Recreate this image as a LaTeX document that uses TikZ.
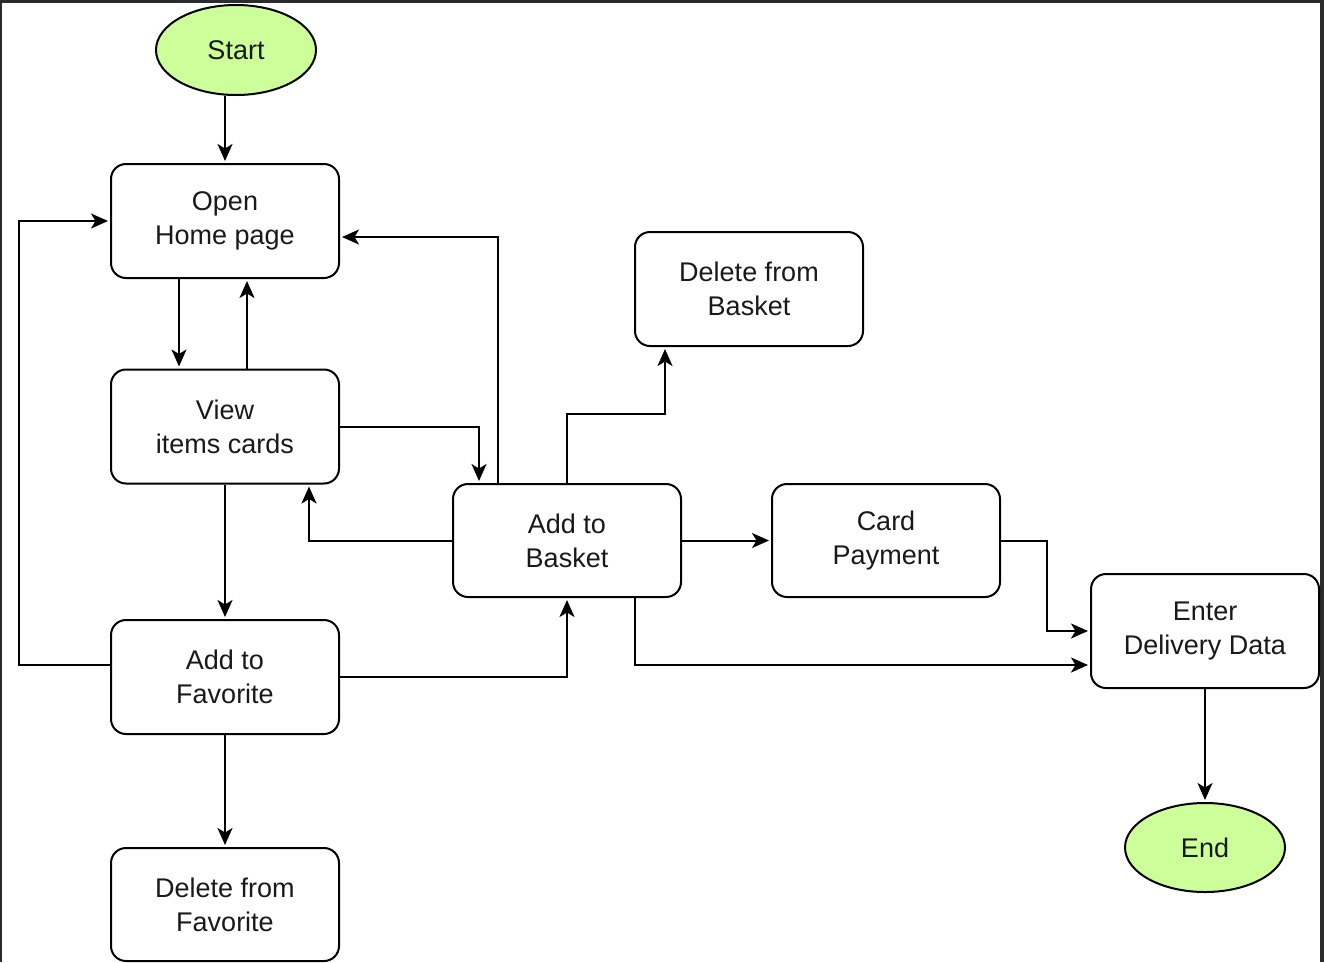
\documentclass[tikz,border=0pt]{standalone}
\usepackage{fontspec}
\setmainfont{Liberation Sans}
\usetikzlibrary{arrows.meta,shapes.geometric}
\definecolor{termfill}{HTML}{CCFF99}
\definecolor{framedark}{HTML}{2B2B2B}
\begin{document}
\begin{tikzpicture}[x=1pt,y=-1pt,
  every node/.style={font=\fontsize{27}{34}\selectfont, text=black!90},
  stepbox/.style={draw, line width=2pt, rounded corners=15pt, align=center,
    minimum width=228pt, minimum height=114pt, inner sep=0pt},
  terminal/.style={draw, line width=2pt, ellipse, fill=termfill,
    minimum width=160pt, minimum height=90pt, inner sep=0pt},
  arr/.style={line width=2pt, shorten >=2pt,
    -{Stealth[length=17pt,width=15pt,inset=4.5pt]}}]

% page and frame
\useasboundingbox (0,0) rectangle (1324,962);
\fill[white] (0,0) rectangle (1324,962);
\fill[framedark] (0,0) rectangle (1324,3);
\fill[framedark] (0,0) rectangle (2,962);
\fill[framedark] (1320,0) rectangle (1324,962);

% nodes
\node[terminal] (start) at (236,50) {Start};
\node[stepbox] (open) at (225,221) {Open\\Home page};
\node[stepbox] (view) at (225,426.5) {View\\items cards};
\node[stepbox] (fav) at (225,677) {Add to\\Favorite};
\node[stepbox, minimum height=113pt] (delfav) at (225,904.5) {Delete from\\Favorite};
\node[stepbox, minimum height=113pt] (basket) at (567,540.5) {Add to\\Basket};
\node[stepbox] (delbasket) at (749,289) {Delete from\\Basket};
\node[stepbox, minimum height=113pt] (card) at (886,540.5) {Card\\Payment};
\node[stepbox] (enter) at (1205,631) {Enter\\Delivery Data};
\node[terminal, minimum height=89pt] (end) at (1205,847.5) {End};

% connectors
\draw[arr] (open.north |- start.south) -- (open.north);
\draw[arr] ([xshift=-46pt]open.south) -- ([xshift=-46pt]view.north);
\draw[arr] ([xshift=22pt]view.north) -- ([xshift=22pt]open.south);
\draw[arr] (view.east) -| ([xshift=-88pt]basket.north);
\draw[arr] ([xshift=-69pt]basket.north) |- ([yshift=-16pt]open.east);
\draw[arr] (basket.west) -| ([xshift=84pt]view.south);
\draw[arr] (basket.north) -- (basket.north |- 0,414) -| ([xshift=-84pt]delbasket.south);
\draw[arr] (basket.east) -- (card.west);
\draw[arr] (card.east) -- ++(46,0) |- (enter.west);
\draw[arr] ([xshift=68pt]basket.south) |- ([yshift=-34pt]enter.west);
\draw[arr] (view.south) -- (fav.north);
\draw[arr] ([yshift=12pt]fav.west) -- ++(-91,0) |- (open.west);
\draw[arr] (fav.east) -| (basket.south);
\draw[arr] (fav.south) -- (delfav.north);
\draw[arr] (enter.south) -- (end.north);
\end{tikzpicture}
\end{document}
